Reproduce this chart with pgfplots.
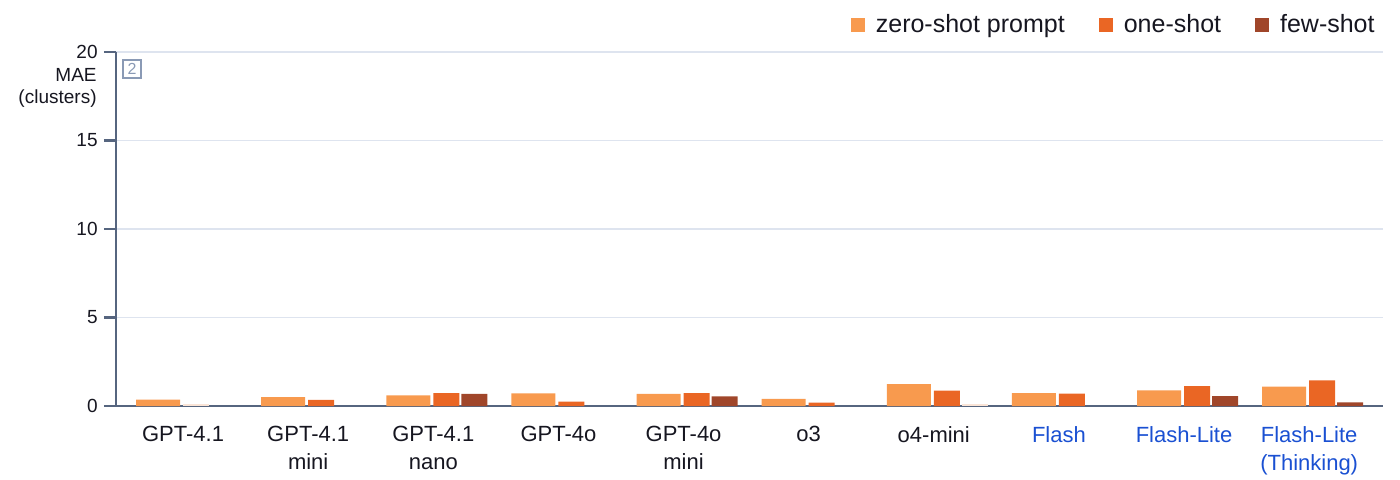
\documentclass[border=0pt]{standalone}
\usepackage{fontspec}
\setmainfont{Liberation Sans}
\usepackage{pgfplots}
\pgfplotsset{compat=1.18}

\definecolor{zeroc}{RGB}{248,154,78}
\definecolor{onec}{RGB}{234,102,36}
\definecolor{fewc}{RGB}{160,70,42}
\definecolor{fadec}{RGB}{250,228,214}
\definecolor{axc}{RGB}{86,101,127}
\definecolor{gridc}{RGB}{222,228,239}
\definecolor{txt}{RGB}{22,22,32}
\definecolor{bluel}{RGB}{26,80,210}
\definecolor{boxc}{RGB}{138,154,181}

\begin{document}
\begin{tikzpicture}
\useasboundingbox (-58pt,-36.5pt) rectangle (642pt,203pt);
\begin{axis}[
  at={(0,0)}, anchor=south west,
  width=633.5pt, height=177pt,
  scale only axis,
  clip=false,
  xmin=-0.536, xmax=9.59,
  ymin=0, ymax=20,
  axis x line=bottom, axis y line=left,
  axis line style={axc, line width=1.4pt, -},
  ytick={0,5,10,15,20},
  ymajorgrids,
  grid style={gridc, line width=0.9pt},
  tick align=outside,
  ytick style={axc, line width=1.4pt},
  major tick length=6pt,
  xtick={0,1,2,3,4,5,6,7,8,9},
  xtick style={draw=none},
  xticklabels={GPT-4.1, {GPT-4.1\\mini}, {GPT-4.1\\nano}, GPT-4o, {GPT-4o\\mini}, o3, o4-mini,
    {\color{bluel}Flash}, {\color{bluel}Flash-Lite}, {{\color{bluel}Flash-Lite}\\{\color{bluel}(Thinking)}}},
  x tick label style={align=center, font=\fontsize{11}{14}\selectfont, text=txt, inner sep=0pt, yshift=-4pt},
  y tick label style={font=\fontsize{9.5}{11}\selectfont, text=txt, inner sep=0pt, xshift=-3pt},
  /pgf/number format/assume math mode=true,
  legend columns=3,
  legend style={at={(1,1)}, anchor=east, xshift=1pt, yshift=13.5pt, draw=none, fill=none,
    font=\fontsize{12.5}{14}\selectfont, text=txt,
    /tikz/every odd column/.append style={column sep=3.5pt},
    /tikz/every even column/.append style={column sep=15pt}},
  legend image code/.code={\fill[#1] (0pt,-3.5pt) rectangle (7pt,3.5pt);},
]

% zero-shot prompt
\addplot[ybar, bar width=22pt, bar shift=-12.5pt, fill=zeroc, draw=none] coordinates {
  (0,0.36) (1,0.50) (2,0.60) (3,0.72) (4,0.68) (5,0.40) (6,1.24) (7,0.73) (8,0.89) (9,1.09)
};
\addlegendentry{zero-shot prompt}

% one-shot
\addplot[ybar, bar width=13pt, bar shift=6.5pt, fill=onec, draw=none] coordinates {
  (1,0.34) (2,0.73) (3,0.25) (4,0.73) (5,0.19) (6,0.87) (7,0.70) (8,1.13) (9,1.45)
};
\addlegendentry{one-shot}

% few-shot
\addplot[ybar, bar width=13pt, bar shift=20.5pt, fill=fewc, draw=none] coordinates {
  (2,0.68) (4,0.55) (8,0.56) (9,0.20)
};
\addlegendentry{few-shot}

% faded bars
\addplot[ybar, bar width=13pt, bar shift=6.5pt, fill=fadec, draw=none, forget plot] coordinates {
  (0,0.12)
};
\addplot[ybar, bar width=13pt, bar shift=20.5pt, fill=fadec, draw=none, forget plot] coordinates {
  (6,0.12)
};

\node[anchor=north east, align=right, font=\fontsize{9.5}{11}\selectfont, text=txt, inner sep=0pt]
  at ([xshift=-9.5pt, yshift=-8pt]rel axis cs:0,1) {MAE\\(clusters)};
\node[draw=boxc, line width=0.6pt, text=boxc, font=\fontsize{8}{9}\selectfont, minimum size=9pt, inner sep=0pt]
  at ([xshift=8pt, yshift=-8.5pt]rel axis cs:0,1) {2};
\end{axis}
\end{tikzpicture}
\end{document}
